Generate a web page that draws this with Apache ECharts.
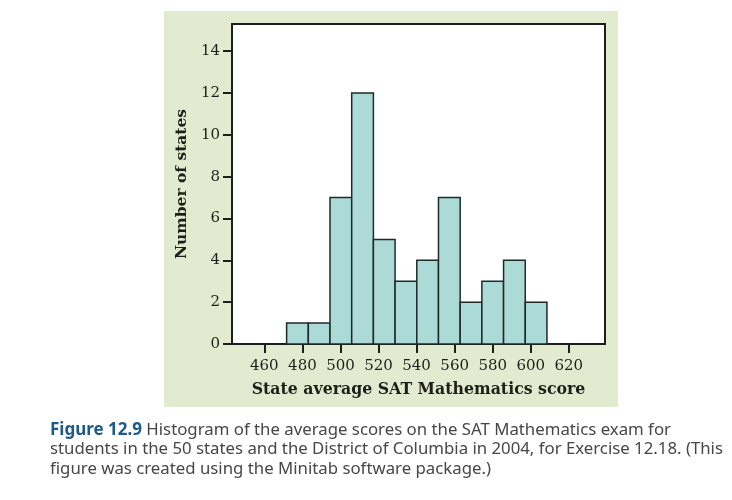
<!DOCTYPE html>
<html>
<head>
<meta charset="utf-8">
<script src="https://cdn.jsdelivr.net/npm/echarts@6/dist/echarts.min.js"></script>
<style>
  html, body { margin: 0; padding: 0; background: #fff; }
  #chart { width: 732px; height: 500px; }
</style>
</head>
<body>
<div id="chart"></div>
<script>
const binEdges = [471.7, 483.1, 494.5, 505.9, 517.3, 528.7, 540.1, 551.5, 562.9, 574.3, 585.7, 597.1, 608.5]
const counts = [1, 1, 7, 12, 5, 3, 4, 7, 2, 3, 4, 2]
const xTicks = [460, 480, 500, 520, 540, 560, 580, 600, 620]
const yTicks = [0, 2, 4, 6, 8, 10, 12, 14]

// [start, end, count] per bar
const bars = counts.map((c, i) => [binEdges[i], binEdges[i + 1], c])

const serif = '"DejaVu Serif", "Liberation Serif", serif'
const ink = '#1e1e1a'

const chart = echarts.init(document.getElementById('chart'))

const option = {
  animation: false,
  backgroundColor: '#fff',
  graphic: [
    // light green panel behind the plot
    {
      type: 'rect',
      z: -100,
      left: 164,
      top: 11,
      shape: { width: 454, height: 396 },
      style: { fill: '#e2ebcf' }
    },
    // caption
    {
      type: 'text',
      left: 50,
      top: 420,
      style: {
        text: '{b|Figure 12.9} Histogram of the average scores on the SAT Mathematics exam for\n' +
          'students in the 50 states and the District of Columbia in 2004, for Exercise 12.18. (This\n' +
          'figure was created using the Minitab software package.)',
        font: '16.8px "Noto Sans", sans-serif',
        fill: '#474747',
        lineHeight: 19.5,
        rich: {
          b: { fontWeight: 'bold', fill: '#1d5a8a', fontSize: 17, fontFamily: '"Noto Sans", sans-serif', lineHeight: 19.5 }
        }
      }
    }
  ],
  grid: {
    left: 232,
    right: 127,
    top: 24,
    bottom: 156,
    show: true,
    backgroundColor: '#fff',
    borderColor: ink,
    borderWidth: 2
  },
  xAxis: {
    type: 'value',
    min: 443,
    max: 639,
    name: 'State average SAT Mathematics score',
    nameLocation: 'middle',
    nameGap: 38,
    nameTextStyle: { fontFamily: serif, fontWeight: 'bold', fontSize: 15.75, color: ink },
    axisLine: { show: true, lineStyle: { color: ink, width: 2 } },
    axisTick: { show: true, length: 9, customValues: xTicks, lineStyle: { color: ink, width: 2 } },
    axisLabel: { customValues: xTicks, margin: 15, fontFamily: serif, fontSize: 15, color: ink },
    splitLine: { show: false }
  },
  yAxis: {
    type: 'value',
    min: 0,
    max: 15.3,
    name: 'Number of states',
    nameLocation: 'middle',
    nameGap: 42,
    nameRotate: 90,
    nameTextStyle: { fontFamily: serif, fontWeight: 'bold', fontSize: 15.5, color: ink },
    axisLine: { show: true, lineStyle: { color: ink, width: 2 } },
    axisTick: { show: true, length: 9, customValues: yTicks, lineStyle: { color: ink, width: 2 } },
    axisLabel: { customValues: yTicks, margin: 12, fontFamily: serif, fontSize: 15, color: ink },
    splitLine: { show: false }
  },
  series: [
    {
      type: 'custom',
      data: bars,
      encode: { x: [0, 1], y: 2 },
      renderItem: function (params, api) {
        const p0 = api.coord([api.value(0), 0])
        const p1 = api.coord([api.value(1), api.value(2)])
        return {
          type: 'rect',
          shape: { x: p0[0], y: p1[1], width: p1[0] - p0[0], height: p0[1] - p1[1] },
          style: { fill: '#acdbd7', stroke: '#1f2a28', lineWidth: 1.5 }
        }
      }
    }
  ]
}

chart.setOption(option)
</script>
</body>
</html>
